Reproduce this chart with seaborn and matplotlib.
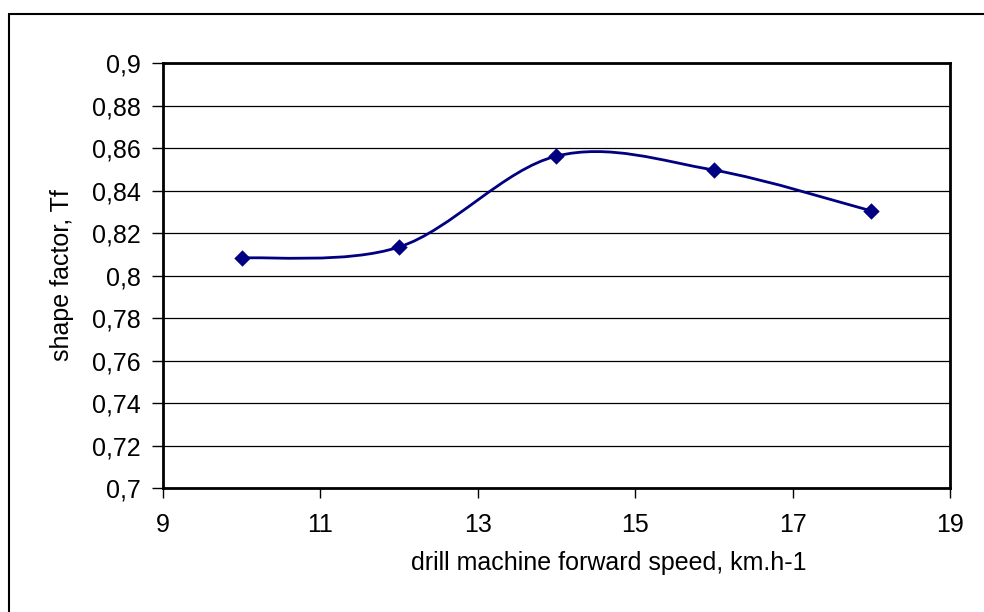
import numpy as np
import matplotlib
matplotlib.use("Agg")
import matplotlib.pyplot as plt
from matplotlib.path import Path
from matplotlib.patches import PathPatch
from matplotlib.lines import Line2D
import seaborn as sns

# data
speed = [10, 12, 14, 16, 18]
shape_factor = [0.8082, 0.8134, 0.8562, 0.8496, 0.8304]
x_ticks = [9, 11, 13, 15, 17, 19]
y_ticks = [0.70, 0.72, 0.74, 0.76, 0.78, 0.80, 0.82, 0.84, 0.86, 0.88, 0.90]
y_tick_labels = ["0,7", "0,72", "0,74", "0,76", "0,78", "0,8", "0,82", "0,84", "0,86", "0,88", "0,9"]

sns.set_style("white")
plt.rcParams['font.family'] = ['Liberation Sans', 'DejaVu Sans']

fig = plt.figure(figsize=(9.84, 6.12), dpi=100)
ax = fig.add_axes([163 / 984, 1 - 488 / 612, (950 - 163) / 984, (488 - 63) / 612])

# smoothed line like Excel's: cubic Bezier with Catmull-Rom control points
pts = np.column_stack([speed, shape_factor])
verts = [pts[0]]
codes = [Path.MOVETO]
n = len(pts)
for i in range(n - 1):
    p0 = pts[i - 1] if i > 0 else pts[i]
    p1 = pts[i]
    p2 = pts[i + 1]
    p3 = pts[i + 2] if i + 2 < n else pts[i + 1]
    c1 = p1 + (p2 - p0) / 6
    c2 = p2 - (p3 - p1) / 6
    verts += [c1, c2, p2]
    codes += [Path.CURVE4] * 3
ax.add_patch(PathPatch(Path(verts, codes), fill=False, edgecolor='#000080', lw=2, zorder=3))

sns.scatterplot(x=speed, y=shape_factor, marker='D', s=70, color='#000080',
                edgecolor='#000080', linewidth=0, ax=ax, zorder=4)

ax.set_xlim(9, 19)
ax.set_ylim(0.7, 0.9)
ax.set_xticks(x_ticks)
ax.set_xticklabels([str(t) for t in x_ticks])
ax.set_yticks(y_ticks)
ax.set_yticklabels(y_tick_labels)
ax.tick_params(axis='both', labelsize=18, colors='black', labelcolor='black',
               direction='out', width=1, left=True, bottom=True)
ax.tick_params(axis='y', length=8, pad=8)
ax.tick_params(axis='x', length=7, pad=11)
ax.yaxis.grid(True, color='black', lw=0.9)
ax.xaxis.grid(False)
for s in ax.spines.values():
    s.set_visible(True)
    s.set_color('black')
    s.set_linewidth(2)

ax.set_xlabel("drill machine forward speed, km.h-1", fontsize=18, color='black')
ax.set_ylabel("shape factor, Tf", fontsize=18, color='black')
ax.xaxis.set_label_coords(0.567, -0.148)
ax.yaxis.set_label_coords(-0.113, 0.5)

# outer chart-area border (left and top visible)
fig.add_artist(Line2D([8.5 / 984, 8.5 / 984], [0, 1 - 13.5 / 612], color='black', lw=1.5,
                      transform=fig.transFigure))
fig.add_artist(Line2D([8.5 / 984, 1], [1 - 13.5 / 612, 1 - 13.5 / 612], color='black', lw=1.5,
                      transform=fig.transFigure))

fig.savefig("out.png", dpi=100)
